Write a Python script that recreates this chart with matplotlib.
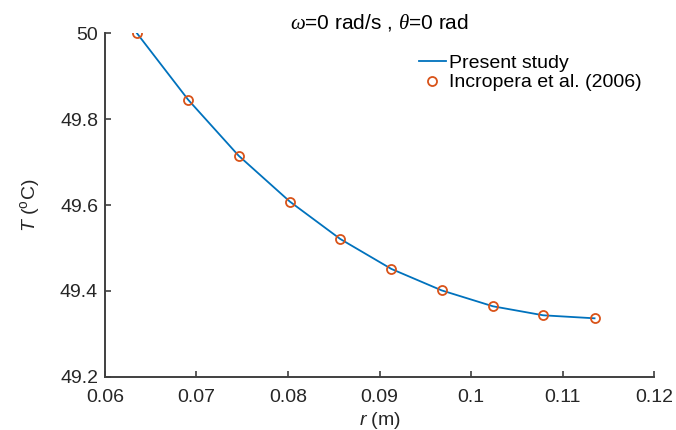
import numpy as np
import matplotlib.pyplot as plt

plt.rcParams['font.family'] = ['Liberation Sans', 'DejaVu Sans']
plt.rcParams['mathtext.fontset'] = 'custom'
plt.rcParams['mathtext.rm'] = 'Liberation Sans'
plt.rcParams['mathtext.it'] = 'Liberation Sans:italic'
plt.rcParams['mathtext.cal'] = 'Liberation Serif:italic'

# radial position (m) and temperature (C)
r = [0.0635, 0.0691, 0.0746, 0.0802, 0.0857, 0.0913, 0.0968, 0.1024, 0.1079, 0.1135]
T_present = [50.0, 49.845, 49.715, 49.608, 49.521, 49.451, 49.401, 49.364, 49.343, 49.336]
T_incropera = [50.0, 49.845, 49.715, 49.608, 49.521, 49.451, 49.401, 49.364, 49.343, 49.336]

xticks = [0.06, 0.07, 0.08, 0.09, 0.1, 0.11, 0.12]
xticklabels = ['0.06', '0.07', '0.08', '0.09', '0.1', '0.11', '0.12']
yticks = [49.2, 49.4, 49.6, 49.8, 50]
yticklabels = ['49.2', '49.4', '49.6', '49.8', '50']

fig = plt.figure(figsize=(6.76, 4.30), dpi=100)
ax = fig.add_axes([0.1553, 0.124, 0.8122, 0.7985])

ax.plot(r, T_present, '-', color='#0072BD', lw=1.3, label='Present study')
ax.plot(r, T_incropera, 'o', color='#D95319', mfc='none', ms=6.5, mew=1.3,
        label='Incropera et al. (2006)')

ax.set_xlim(0.06, 0.12)
ax.set_ylim(49.2, 50)
ax.set_xticks(xticks)
ax.set_xticklabels(xticklabels)
ax.set_yticks(yticks)
ax.set_yticklabels(yticklabels)

axcol = '#404040'
txtcol = '#262626'
for s in ['top', 'right']:
    ax.spines[s].set_visible(False)
for s in ['left', 'bottom']:
    ax.spines[s].set_color(axcol)
    ax.spines[s].set_linewidth(1.4)
ax.tick_params(direction='in', length=4, width=1.2, color=axcol,
               labelsize=14, labelcolor=txtcol)
ax.tick_params(axis='y', pad=5)
ax.tick_params(axis='x', pad=9)

ax.set_xlabel(r'$r$ (m)', fontsize=14, color=txtcol, labelpad=3)
ax.set_ylabel(r'$T$ ($^{\mathrm{o}}$C)', fontsize=14, color=txtcol, labelpad=13)
ax.set_title(r'$\mathcal{\omega}$=0 rad/s , $\mathcal{\theta}$=0 rad',
             fontsize=15, pad=3, color='black')

ax.legend(loc='upper left', bbox_to_anchor=(0.557, 0.962), frameon=False,
          fontsize=14, handlelength=1.4, handletextpad=0.15,
          borderaxespad=0, labelspacing=0.1)

fig.savefig('out.png', dpi=100)
